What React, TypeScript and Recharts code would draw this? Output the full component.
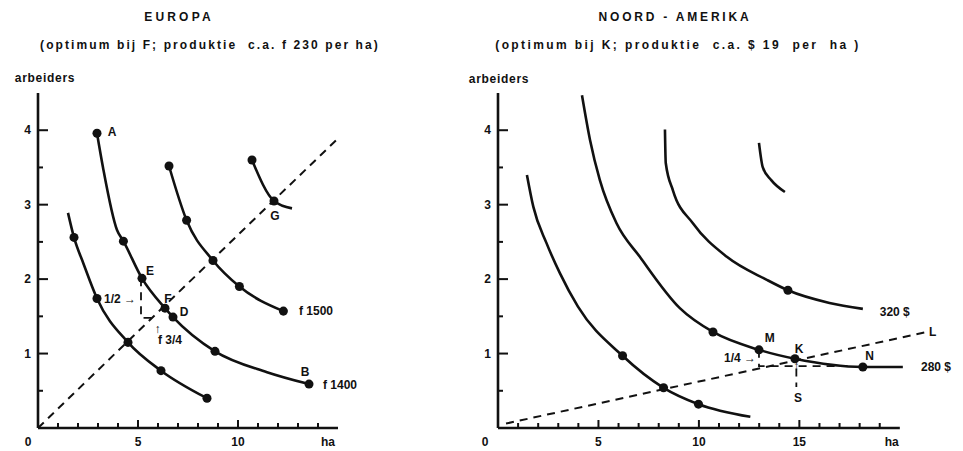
import { ComposedChart, Line, Scatter, XAxis, YAxis, ReferenceDot, ReferenceLine } from 'recharts';

type Pt = { x: number; y: number };
type Note = { x: number; y: number; text: string };

// ---- Europa (ha -> arbeiders) ----
const euLow: Pt[] = [
  { x: 1.5, y: 2.89 }, { x: 1.8, y: 2.56 }, { x: 2.27, y: 2.21 }, { x: 2.95, y: 1.74 },
  { x: 4.5, y: 1.15 }, { x: 6.15, y: 0.77 }, { x: 8.45, y: 0.4 },
];
const eu1400: Pt[] = [
  { x: 2.95, y: 3.96 }, { x: 3.25, y: 3.5 }, { x: 3.95, y: 2.66 }, { x: 4.27, y: 2.51 },
  { x: 5.2, y: 2.01 }, { x: 6.35, y: 1.61 }, { x: 6.75, y: 1.49 }, { x: 8.85, y: 1.03 },
  { x: 11.45, y: 0.75 }, { x: 13.55, y: 0.59 },
];
const eu1500: Pt[] = [
  { x: 6.55, y: 3.52 }, { x: 7.43, y: 2.79 }, { x: 8.75, y: 2.25 }, { x: 10.07, y: 1.9 }, { x: 12.27, y: 1.57 },
];
const euHigh: Pt[] = [{ x: 10.7, y: 3.6 }, { x: 11.8, y: 3.05 }, { x: 12.7, y: 2.95 }];
const euDots: Pt[] = [
  { x: 1.8, y: 2.56 }, { x: 2.95, y: 1.74 }, { x: 4.5, y: 1.15 }, { x: 6.15, y: 0.77 }, { x: 8.45, y: 0.4 },
  { x: 2.95, y: 3.96 }, { x: 4.27, y: 2.51 }, { x: 5.2, y: 2.01 }, { x: 6.35, y: 1.61 }, { x: 6.75, y: 1.49 },
  { x: 8.85, y: 1.03 }, { x: 13.55, y: 0.59 },
  { x: 6.55, y: 3.52 }, { x: 7.43, y: 2.79 }, { x: 8.75, y: 2.25 }, { x: 10.07, y: 1.9 }, { x: 12.27, y: 1.57 },
  { x: 10.7, y: 3.6 }, { x: 11.8, y: 3.05 },
];
const euOptimum: Pt[] = [{ x: 0, y: 0 }, { x: 15, y: 3.89 }];
const euStep: Pt[] = [{ x: 5.15, y: 2.01 }, { x: 5.15, y: 1.48 }, { x: 5.85, y: 1.48 }];
const euNotes: Note[] = [
  { x: 3.7, y: 3.98, text: 'A' }, { x: 5.6, y: 2.11, text: 'E' }, { x: 6.5, y: 1.73, text: 'F' },
  { x: 7.3, y: 1.56, text: 'D' }, { x: 13.35, y: 0.75, text: 'B' }, { x: 11.85, y: 2.85, text: 'G' },
  { x: 13.9, y: 1.57, text: 'f 1500' }, { x: 15.1, y: 0.58, text: 'f 1400' },
  { x: 4.1, y: 1.74, text: '1/2 \u2192' }, { x: 6.6, y: 1.18, text: 'f 3/4' }, { x: 5.98, y: 1.33, text: '\u2191' },
];

// ---- Noord-Amerika ----
const naLow: Pt[] = [
  { x: 1.44, y: 3.4 }, { x: 1.76, y: 2.97 }, { x: 2.42, y: 2.48 }, { x: 3.08, y: 2.08 }, { x: 3.98, y: 1.63 },
  { x: 6.2, y: 0.97 }, { x: 8.24, y: 0.54 }, { x: 9.98, y: 0.32 }, { x: 12.56, y: 0.15 },
];
const na280: Pt[] = [
  { x: 4.18, y: 4.47 }, { x: 4.58, y: 3.87 }, { x: 5.07, y: 3.33 }, { x: 5.9, y: 2.75 }, { x: 7.06, y: 2.3 },
  { x: 9.05, y: 1.61 }, { x: 10.7, y: 1.29 }, { x: 12.99, y: 1.05 }, { x: 14.78, y: 0.93 },
  { x: 18.16, y: 0.82 }, { x: 20.15, y: 0.82 },
];
const na320: Pt[] = [
  { x: 8.31, y: 4.01 }, { x: 8.35, y: 3.56 }, { x: 8.71, y: 3.19 }, { x: 9.7, y: 2.75 }, { x: 11.39, y: 2.3 },
  { x: 13.38, y: 1.99 }, { x: 14.43, y: 1.85 }, { x: 16.5, y: 1.68 }, { x: 18.16, y: 1.6 },
];
const naHigh: Pt[] = [{ x: 12.99, y: 3.83 }, { x: 13.18, y: 3.5 }, { x: 13.6, y: 3.33 }, { x: 14.28, y: 3.17 }];
const naDots: Pt[] = [
  { x: 6.2, y: 0.97 }, { x: 8.24, y: 0.54 }, { x: 9.98, y: 0.32 },
  { x: 10.7, y: 1.29 }, { x: 12.99, y: 1.05 }, { x: 14.78, y: 0.93 }, { x: 18.16, y: 0.82 },
  { x: 14.43, y: 1.85 },
];
const naOptimum: Pt[] = [{ x: 0.4, y: 0.06 }, { x: 21.34, y: 1.29 }];
const naStep: Pt[] = [{ x: 12.99, y: 1.05 }, { x: 12.99, y: 0.83 }, { x: 17.4, y: 0.83 }];
const naArrow: Pt[] = [{ x: 14.85, y: 0.8 }, { x: 14.85, y: 0.55 }];
const naNotes: Note[] = [
  { x: 13.53, y: 1.21, text: 'M' }, { x: 14.98, y: 1.07, text: 'K' }, { x: 18.5, y: 0.97, text: 'N' },
  { x: 21.64, y: 1.29, text: 'L' }, { x: 14.93, y: 0.4, text: 'S' }, { x: 14.85, y: 0.83, text: '\u2191' },
  { x: 19.75, y: 1.56, text: '320 $' }, { x: 21.8, y: 0.82, text: '280 $' },
  { x: 12.05, y: 0.94, text: '1/4 \u2192' },
];

const yTicks = [0, 0.5, 1, 1.5, 2, 2.5, 3, 3.5, 4];
const euXTicks = [0, 1, 2, 3, 4, 5, 6, 7, 8, 9, 10, 11, 12, 13, 14];
const naXTicks = [0, 1, 2, 3, 4, 5, 6, 7, 8, 9, 10, 11, 12, 13, 14, 15, 16, 17, 18, 19];

const ink = '#111';
const font = '"Liberation Sans", Arial, sans-serif';
const X_AXIS_H = 20;
const Y_AXIS_W = 30;

// tick label plus an inward tick mark drawn from the label position
const xTick = (zeroShift: number) => (props: any) => {
  const x = Number(props.x);
  const y = Number(props.y);
  const v = Number(props.payload.value);
  const major = v % 5 === 0;
  const axisY = y - 14;
  return (
    <g key={`xt-${v}`}>
      {v > 0 && (
        <rect x={x - 1} y={axisY - (major ? 8 : 5)} width={2} height={major ? 8 : 5} fill={ink} stroke="none" />
      )}
      {major && (
        <text x={v === 0 ? x - zeroShift : x} y={y} dy="0.35em" textAnchor="middle" fill={ink} stroke="none"
          fontFamily={font} fontWeight={700} fontSize={12}>
          {v}
        </text>
      )}
    </g>
  );
};

const yTick = (props: any) => {
  const x = Number(props.x);
  const y = Number(props.y);
  const v = Number(props.payload.value);
  if (v === 0) return <g key="yt-0" />;
  const major = Number.isInteger(v);
  return (
    <g key={`yt-${v}`}>
      <rect x={x + 8} y={y - 1} width={major ? 10 : 5} height={2} fill={ink} stroke="none" />
      {major && (
        <text x={x + 1} y={y} dy="0.35em" textAnchor="end" fill={ink} stroke="none"
          fontFamily={font} fontWeight={700} fontSize={12}>
          {v}
        </text>
      )}
    </g>
  );
};

function noteDots(notes: Note[]) {
  return notes.map((n, i) => (
    <ReferenceDot key={`n-${i}`} x={n.x} y={n.y} r={0} fill="none" stroke="none" ifOverflow="visible"
      label={{ value: n.text, position: 'center', fill: ink, fontFamily: font, fontWeight: 700, fontSize: 12 }} />
  ));
}

function curve(data: Pt[], key: string) {
  return (
    <Line key={key} data={data} dataKey="y" type="monotone" stroke={ink} strokeWidth={2.6}
      dot={false} activeDot={false} isAnimationActive={false} />
  );
}

function dashed(data: Pt[], key: string, width = 2) {
  return (
    <Line key={key} data={data} dataKey="y" type="linear" stroke={ink} strokeWidth={width}
      strokeDasharray="8 6" dot={false} activeDot={false} isAnimationActive={false} />
  );
}

const titleStyle: React.CSSProperties = {
  position: 'absolute', fontFamily: font, fontWeight: 700, color: ink, whiteSpace: 'pre',
  transform: 'translate(-50%, -50%)', fontSize: 12,
};

export default function App() {
  return (
    <div style={{ position: 'absolute', left: 0, top: 0, width: 963, height: 451, background: '#fff' }}>
      <div style={{ ...titleStyle, left: 179, top: 17, letterSpacing: 3.2 }}>EUROPA</div>
      <div style={{ ...titleStyle, left: 210, top: 45, letterSpacing: 2.1 }}>
        (optimum bij F; produktie  c.a. f 230 per ha)
      </div>
      <div style={{ ...titleStyle, left: 45, top: 78, letterSpacing: 0.7 }}>arbeiders</div>

      <div style={{ ...titleStyle, left: 675, top: 17, letterSpacing: 2.8 }}>NOORD - AMERIKA</div>
      <div style={{ ...titleStyle, left: 678, top: 45, letterSpacing: 2.4 }}>
        (optimum bij K; produktie  c.a. $ 19  per  ha )
      </div>
      <div style={{ ...titleStyle, left: 499, top: 79, letterSpacing: 0.7 }}>arbeiders</div>

      <div style={{ position: 'absolute', left: 0, top: 0 }}>
        <ComposedChart width={440} height={451}
          margin={{ top: 93, left: 38 - Y_AXIS_W, right: 102, bottom: 23 - X_AXIS_H }}>
          <XAxis type="number" dataKey="x" domain={[0, 15]} ticks={euXTicks} height={X_AXIS_H} tickSize={0}
            tickMargin={14} tickLine={false} axisLine={{ stroke: ink, strokeWidth: 2.6 }}
            tick={xTick(10)} interval={0} />
          <YAxis type="number" dataKey="y" domain={[0, 4.5]} ticks={yTicks} width={Y_AXIS_W} tickSize={0}
            tickMargin={8} tickLine={false} axisLine={{ stroke: ink, strokeWidth: 2.6 }}
            tick={yTick} interval={0} />
          {dashed(euOptimum, 'opt')}
          {dashed(euStep, 'step', 1.8)}
          {curve(euLow, 'low')}
          {curve(eu1400, 'c1400')}
          {curve(eu1500, 'c1500')}
          {curve(euHigh, 'high')}
          <Scatter data={euDots} fill={ink} shape="circle" isAnimationActive={false} />
          {noteDots(euNotes)}
          <ReferenceDot x={14.5} y={0} r={0} fill="none" stroke="none" ifOverflow="visible"
            label={{ value: 'ha', position: 'center', dy: 14, fill: ink, fontFamily: font, fontWeight: 700, fontSize: 12 }} />
        </ComposedChart>
      </div>

      <div style={{ position: 'absolute', left: 440, top: 0 }}>
        <ComposedChart width={523} height={451}
          margin={{ top: 93, left: 58 - Y_AXIS_W, right: 23, bottom: 23 - X_AXIS_H }}>
          <XAxis type="number" dataKey="x" domain={[0, 22]} ticks={naXTicks} height={X_AXIS_H} tickSize={0}
            tickMargin={14} tickLine={false} axisLine={false}
            tick={xTick(13)} interval={0} />
          <YAxis type="number" dataKey="y" domain={[0, 4.5]} ticks={yTicks} width={Y_AXIS_W} tickSize={0}
            tickMargin={8} tickLine={false} axisLine={{ stroke: ink, strokeWidth: 2.6 }}
            tick={yTick} interval={0} />
          <ReferenceLine segment={[{ x: 0, y: 0 }, { x: 20, y: 0 }]} stroke={ink} strokeWidth={2.6} />
          {dashed(naOptimum, 'opt')}
          {dashed(naStep, 'step', 1.8)}
          {dashed(naArrow, 'arrow', 1.8)}
          {curve(naLow, 'low')}
          {curve(na280, 'c280')}
          {curve(na320, 'c320')}
          {curve(naHigh, 'high')}
          <Scatter data={naDots} fill={ink} shape="circle" isAnimationActive={false} />
          {noteDots(naNotes)}
          <ReferenceDot x={19.6} y={0} r={0} fill="none" stroke="none" ifOverflow="visible"
            label={{ value: 'ha', position: 'center', dy: 14, fill: ink, fontFamily: font, fontWeight: 700, fontSize: 12 }} />
        </ComposedChart>
      </div>
    </div>
  );
}
